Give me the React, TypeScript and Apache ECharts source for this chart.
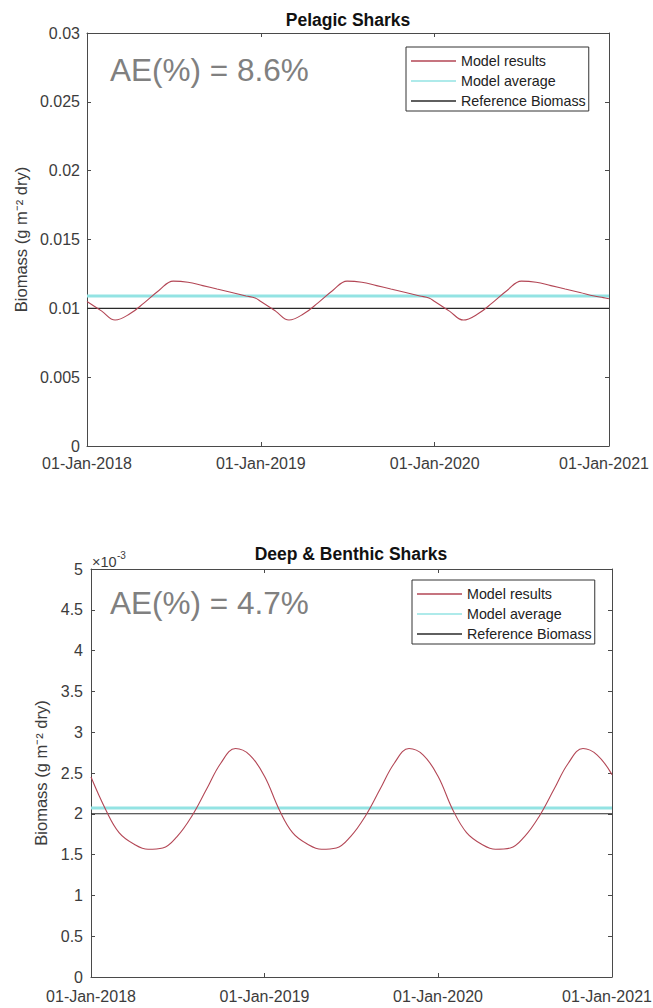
import React, { useEffect, useRef } from "react";
import * as echarts from "echarts";

// ---------- data ----------
const xTickDates = ["2018-01-01", "2019-01-01", "2020-01-01", "2021-01-01"];

const pelagicDates = [
  "2018-01-01", "2018-02-01", "2018-03-01", "2018-04-01", "2018-05-01", "2018-06-01",
  "2018-07-01", "2018-08-01", "2018-09-01", "2018-10-01", "2018-11-01", "2018-12-01", "2018-12-20",
  "2019-01-01", "2019-02-01", "2019-03-01", "2019-04-01", "2019-05-01", "2019-06-01",
  "2019-07-01", "2019-08-01", "2019-09-01", "2019-10-01", "2019-11-01", "2019-12-01", "2019-12-20",
  "2020-01-01", "2020-02-01", "2020-03-01", "2020-04-01", "2020-05-01", "2020-06-01",
  "2020-07-01", "2020-08-01", "2020-09-01", "2020-10-01", "2020-11-01", "2020-12-01", "2020-12-20",
  "2021-01-01",
];
const pelagicValues = [
  0.0105, 0.0098, 0.00915, 0.0096, 0.0104, 0.0113,
  0.01198, 0.0119, 0.01165, 0.0114, 0.01115, 0.0109, 0.01075,
  0.0105, 0.0098, 0.00915, 0.0096, 0.0104, 0.0113,
  0.01198, 0.0119, 0.01165, 0.0114, 0.01115, 0.0109, 0.01075,
  0.0105, 0.0098, 0.00915, 0.0096, 0.0104, 0.0113,
  0.01198, 0.0119, 0.01165, 0.0114, 0.01115, 0.0109, 0.01078,
  0.0107,
];
const pelagicAverage = 0.0109;
const pelagicReference = 0.01;
const pelagicAE = "AE(%) = 8.6%";

const deepDates = [
  "2018-01-01", "2018-02-01", "2018-03-01", "2018-04-01", "2018-05-01", "2018-06-01",
  "2018-07-01", "2018-08-01", "2018-09-01", "2018-10-01", "2018-11-01", "2018-12-01",
  "2019-01-01", "2019-02-01", "2019-03-01", "2019-04-01", "2019-05-01", "2019-06-01",
  "2019-07-01", "2019-08-01", "2019-09-01", "2019-10-01", "2019-11-01", "2019-12-01",
  "2020-01-01", "2020-02-01", "2020-03-01", "2020-04-01", "2020-05-01", "2020-06-01",
  "2020-07-01", "2020-08-01", "2020-09-01", "2020-10-01", "2020-11-01", "2020-12-01",
  "2021-01-01",
];
const deepValues = [
  0.00245, 0.00205, 0.00177, 0.00163, 0.001565, 0.00158,
  0.00172, 0.00197, 0.0023, 0.00262, 0.0028, 0.00272,
  0.00246, 0.00205, 0.00177, 0.00163, 0.001565, 0.00158,
  0.00172, 0.00197, 0.0023, 0.00262, 0.0028, 0.00272,
  0.00246, 0.00205, 0.00177, 0.00163, 0.001565, 0.00158,
  0.00172, 0.00197, 0.0023, 0.00262, 0.0028, 0.00272,
  0.00248,
];
const deepAverage = 0.00207;
const deepReference = 0.002;
const deepAE = "AE(%) = 4.7%";

const pelagicYTicks = { min: 0, max: 0.03, interval: 0.005 };
const deepYTicks = { min: 0, max: 0.005, interval: 0.0005 };

// ---------- helpers ----------
const FONT = "'Liberation Sans', Arial, Helvetica, sans-serif";
const ts = (d: string) => Date.parse(d + "T00:00:00Z");
const MONTHS = ["Jan", "Feb", "Mar", "Apr", "May", "Jun", "Jul", "Aug", "Sep", "Oct", "Nov", "Dec"];
const fmtDate = (v: number) => {
  const d = new Date(v);
  const dd = String(d.getUTCDate()).padStart(2, "0");
  return `${dd}-${MONTHS[d.getUTCMonth()]}-${d.getUTCFullYear()}`;
};

const AXIS_COLOR = "#4a4a4a";
const LABEL_COLOR = "#3c3c3c";
const RED = "#b34655";
const CYAN = "#93e3e3";
const BLACK = "#2a2a2a";
const TICK_FONT = 16;

function buildAxes(
  gridIndex: number,
  yT: { min: number; max: number; interval: number },
  yFmt: any,
  nameGap: number,
  yMargin: number,
  xMargin: number
) {
  const xMin = ts(xTickDates[0]);
  const xMax = ts(xTickDates[xTickDates.length - 1]);
  const tickVals = xTickDates.map(ts);
  const xBase = {
    type: "value",
    gridIndex,
    min: xMin,
    max: xMax,
    splitLine: { show: false },
    axisLine: { show: true, onZero: false, lineStyle: { color: AXIS_COLOR, width: 1 } },
    axisTick: { show: true, inside: true, length: 4, customValues: tickVals, lineStyle: { color: AXIS_COLOR } },
  };
  const xAxes = [
    {
      ...xBase,
      position: "bottom",
      axisLabel: {
        show: true,
        customValues: tickVals,
        // the last label is nudged slightly left so it stays inside the page
        formatter: (v: number) => (v === xMax ? `{last|${fmtDate(v)}}` : fmtDate(v)),
        rich: {
          last: { fontFamily: FONT, fontSize: TICK_FONT, color: LABEL_COLOR, padding: [0, 10, 0, 0] },
        },
        color: LABEL_COLOR,
        fontFamily: FONT,
        fontSize: TICK_FONT,
        margin: xMargin,
        showMinLabel: true,
        showMaxLabel: true,
        hideOverlap: false,
      },
    },
    { ...xBase, position: "top", axisLabel: { show: false } },
  ];
  const yBase = {
    type: "value",
    gridIndex,
    min: yT.min,
    max: yT.max,
    interval: yT.interval,
    splitLine: { show: false },
    axisLine: { show: true, onZero: false, lineStyle: { color: AXIS_COLOR, width: 1 } },
    axisTick: { show: true, inside: true, length: 4, lineStyle: { color: AXIS_COLOR } },
  };
  const yAxes = [
    {
      ...yBase,
      position: "left",
      name: "Biomass (g m⁻² dry)",
      nameLocation: "middle",
      nameRotate: 90,
      nameGap,
      nameTextStyle: { color: LABEL_COLOR, fontFamily: FONT, fontSize: 16.5 },
      axisLabel: { color: LABEL_COLOR, fontFamily: FONT, fontSize: TICK_FONT, margin: yMargin, formatter: yFmt },
    },
    { ...yBase, position: "right", axisLabel: { show: false } },
  ];
  return { xAxes, yAxes };
}

function buildSeries(axisBase: number, dates: string[], values: number[], avg: number, ref: number) {
  const xs = [ts(xTickDates[0]), ts(xTickDates[xTickDates.length - 1])];
  return [
    {
      name: "Model results",
      type: "line",
      xAxisIndex: axisBase,
      yAxisIndex: axisBase,
      symbol: "none",
      smooth: 0.4,
      data: dates.map((d, i) => [ts(d), values[i]]),
      lineStyle: { color: RED, width: 1.1 },
      itemStyle: { color: RED },
      z: 4,
    },
    {
      name: "Model average",
      type: "line",
      xAxisIndex: axisBase,
      yAxisIndex: axisBase,
      symbol: "none",
      data: xs.map((x) => [x, avg]),
      lineStyle: { color: CYAN, width: 3 },
      itemStyle: { color: CYAN },
      z: 2,
    },
    {
      name: "Reference Biomass",
      type: "line",
      xAxisIndex: axisBase,
      yAxisIndex: axisBase,
      symbol: "none",
      data: xs.map((x) => [x, ref]),
      lineStyle: { color: BLACK, width: 1.1 },
      itemStyle: { color: BLACK },
      z: 3,
    },
  ];
}

function legendAt(left: number, top: number) {
  return {
    orient: "vertical",
    left,
    top,
    data: ["Model results", "Model average", "Reference Biomass"],
    icon: "rect",
    backgroundColor: "#ffffff",
    borderColor: "#333333",
    borderWidth: 1,
    borderRadius: 0,
    padding: [6, 3, 2, 5],
    itemGap: 4,
    itemWidth: 45,
    itemHeight: 1.5,
    selectedMode: false,
    textStyle: { color: "#222222", fontFamily: FONT, fontSize: 14.3, lineHeight: 16 },
  };
}

export default function App() {
  const ref = useRef<HTMLDivElement>(null);
  useEffect(() => {
    if (!ref.current) return;
    const chart = echarts.init(ref.current, undefined, { renderer: "svg" });

    const top = buildAxes(0, pelagicYTicks, undefined, 52, 7, 9);
    const bottom = buildAxes(
      1,
      deepYTicks,
      (v: number) => String(+(v * 1000).toFixed(2)),
      38,
      8,
      11
    );

    const titleStyle = { fontFamily: FONT, fontSize: 17.5, fontWeight: "bold", fill: "#111", textAlign: "center", textVerticalAlign: "middle" };
    const aeStyle = { fontFamily: FONT, fontSize: 31.5, fill: "#808080", textAlign: "left", textVerticalAlign: "middle" };

    const option = {
      animation: false,
      backgroundColor: "#ffffff",
      textStyle: { fontFamily: FONT },
      grid: [
        { left: 87, top: 33, width: 522, height: 413, containLabel: false, outerBoundsMode: "none" },
        { left: 91, top: 569, width: 521, height: 408, containLabel: false, outerBoundsMode: "none" },
      ],
      xAxis: [...top.xAxes, ...bottom.xAxes],
      yAxis: [...top.yAxes, ...bottom.yAxes],
      legend: [legendAt(406, 47), legendAt(412, 580)],
      series: [
        ...buildSeries(0, pelagicDates, pelagicValues, pelagicAverage, pelagicReference),
        ...buildSeries(2, deepDates, deepValues, deepAverage, deepReference),
      ],
      graphic: [
        { type: "text", x: 348, y: 20, style: { ...titleStyle, text: "Pelagic Sharks" } },
        { type: "text", x: 351, y: 554, style: { ...titleStyle, text: "Deep & Benthic Sharks" } },
        { type: "text", x: 110, y: 70, style: { ...aeStyle, text: pelagicAE } },
        { type: "text", x: 110, y: 603, style: { ...aeStyle, text: deepAE } },
        {
          type: "text",
          x: 92,
          y: 562,
          style: { text: "×10", fontFamily: FONT, fontSize: 14.5, fill: LABEL_COLOR, textAlign: "left", textVerticalAlign: "middle" },
        },
        {
          type: "text",
          x: 117,
          y: 555,
          style: { text: "-3", fontFamily: FONT, fontSize: 10, fill: LABEL_COLOR, textAlign: "left", textVerticalAlign: "middle" },
        },
      ],
    };
    chart.setOption(option as any);
    return () => chart.dispose();
  }, []);
  return (
    <div
      ref={ref}
      style={{ position: "absolute", left: 0, top: 0, width: 653, height: 1008, background: "#fff" }}
    />
  );
}
